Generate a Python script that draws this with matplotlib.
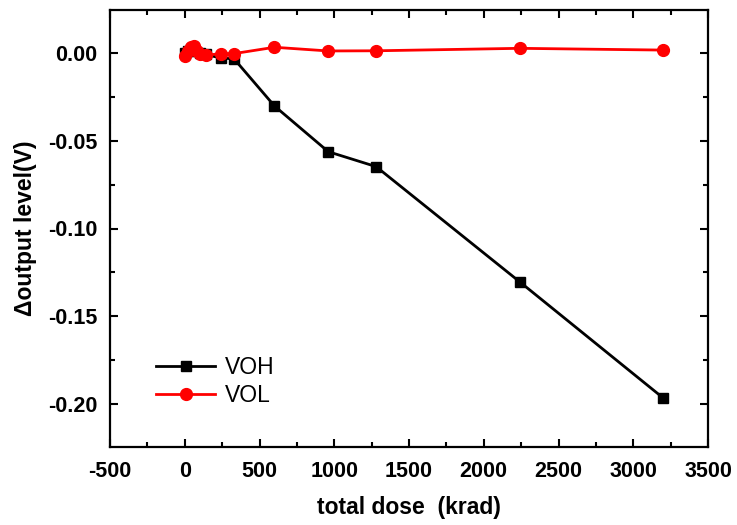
import matplotlib
matplotlib.use("Agg")
import matplotlib.pyplot as plt
from matplotlib.ticker import MultipleLocator, FormatStrFormatter

plt.rcParams['font.family'] = ['Liberation Sans', 'DejaVu Sans']
plt.rcParams['axes.unicode_minus'] = False

dose_voh = [0, 20, 40, 60, 100, 140, 240, 330, 600, 960, 1280, 2240, 3200]
voh = [0.0, 0.001, 0.002, 0.001, 0.0, -0.001, -0.003, -0.0035,
       -0.0303, -0.0563, -0.0648, -0.1303, -0.1964]

dose_vol = [0, 20, 40, 60, 80, 100, 140, 240, 330, 600, 960, 1280, 2240, 3200]
vol = [-0.002, 0.001, 0.003, 0.004, 0.001, -0.001, -0.0015, -0.0005, -0.0005,
       0.0031, 0.001, 0.0011, 0.0025, 0.0015]

fig = plt.figure(figsize=(7.37, 5.25), dpi=100)
ax = fig.add_axes([110/737, 1-447/525, 598/737, 437/525])

ax.plot(dose_voh, voh, color='black', lw=2, marker='s', ms=7, label='VOH')
ax.plot(dose_vol, vol, color='#ff0000', lw=2, marker='o', ms=8.5, label='VOL')

ax.set_xlim(-500, 3500)
ax.set_ylim(-0.2243, 0.0243)
ax.xaxis.set_major_locator(MultipleLocator(500))
ax.xaxis.set_minor_locator(MultipleLocator(250))
ax.yaxis.set_major_locator(MultipleLocator(0.05))
ax.yaxis.set_minor_locator(MultipleLocator(0.025))
ax.yaxis.set_major_formatter(FormatStrFormatter('%.2f'))

ax.tick_params(which='both', direction='in', top=True, right=True, width=1.5)
ax.tick_params(which='major', length=6, labelsize=15.5)
ax.tick_params(axis='x', which='major', pad=10)
ax.tick_params(axis='y', which='major', pad=9)
ax.tick_params(which='minor', length=3.5)
for lab in ax.get_xticklabels() + ax.get_yticklabels():
    lab.set_fontweight('bold')
for s in ax.spines.values():
    s.set_linewidth(1.6)

ax.set_xlabel('total dose  (krad)', fontsize=16.5, fontweight='bold', labelpad=10)
ax.set_ylabel('Δoutput level(V)', fontsize=16.5, fontweight='bold', labelpad=8)

ax.legend(loc='lower left', bbox_to_anchor=(0.042, 0.045), frameon=False,
          fontsize=16.5, handlelength=2.6, handletextpad=0.4, labelspacing=0.2)

fig.savefig('out.png', dpi=100)
